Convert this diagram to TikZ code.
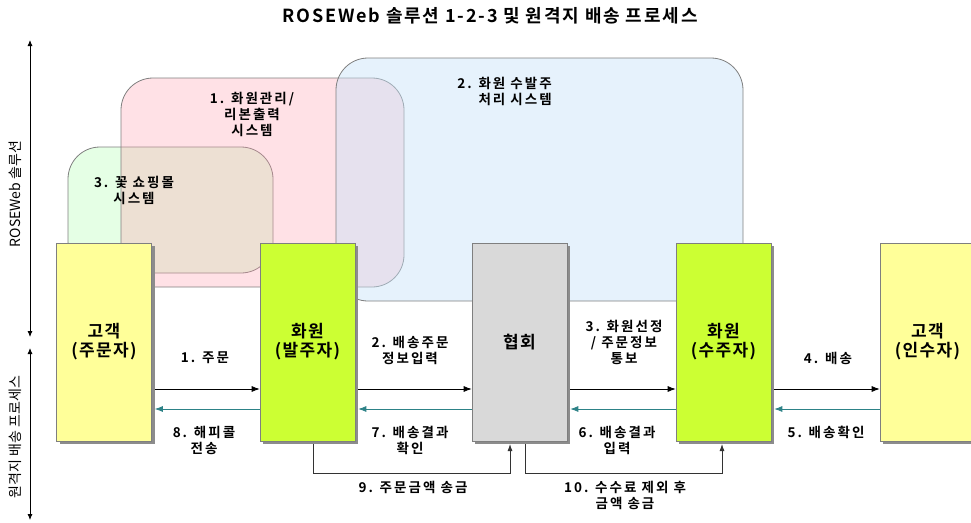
\documentclass[tikz,border=0pt]{standalone}
\usepackage{fontspec}
\setmainfont{Noto Sans CJK KR}[BoldFont={Noto Sans CJK KR Bold}]
\newfontfamily\krT{Noto Sans CJK KR Bold}[LetterSpace=10]
\newfontfamily\krB{Noto Sans CJK KR Bold}[LetterSpace=8]
\newfontfamily\krS{Noto Sans CJK KR Bold}[LetterSpace=15]
\newfontfamily\krA{Noto Sans CJK KR}
\usetikzlibrary{arrows.meta,shadows,calc}
\definecolor{cyel}{HTML}{FFFF99}
\definecolor{cgrn}{HTML}{CCFF33}
\definecolor{cgry}{HTML}{D9D9D9}
\definecolor{rgGreen}{HTML}{E5FFE5}
\definecolor{rgPink}{rgb}{1,0.62,0.68}
\definecolor{rgBlue}{rgb}{0.78,0.887,0.973}
\definecolor{edge}{HTML}{7F7F7F}
\definecolor{teal2}{RGB}{45,130,135}
\tikzset{
  actor/.style={draw=edge, line width=0.6pt, minimum width=95pt, minimum height=198pt,
    inner sep=0pt, align=center, font=\krB\fontsize{17}{19}\selectfont,
    drop shadow={shadow xshift=3pt, shadow yshift=-3pt, fill=black!45, opacity=1}},
  region/.style={draw=edge, line width=0.8pt, rounded corners=32pt},
  lbl/.style={align=center, inner sep=0pt, font=\krS\fontsize{13.5}{16}\selectfont},
  fwd/.style={draw=black, line width=0.8pt, -{Latex[length=8pt,width=6pt]}},
  back/.style={draw=teal2, line width=0.8pt, -{Latex[length=8pt,width=6pt]}},
  pay/.style={draw=black!80, line width=0.8pt, -{Latex[length=7pt,width=5pt]}},
  axis/.style={draw=black, line width=0.8pt, {Latex[length=6pt,width=5pt]}-{Latex[length=6pt,width=5pt]}}
}
\begin{document}
\begin{tikzpicture}[x=1pt,y=-1pt]
\useasboundingbox (0,0) rectangle (971,522);
% title
\node[font=\krT\fontsize{18}{20}\selectfont] (title) at (490,16) {ROSEWeb 솔루션 1-2-3 및 원격지 배송 프로세스};
% axis
\coordinate (ax1) at (30,40);
\coordinate (ax2) at (30,337);
\coordinate (ax3) at (30,348);
\coordinate (ax4) at (30,520);
\draw[axis] (ax1) -- (ax2);
\draw[axis] (ax3) -- (ax4);
\node[rotate=90, font=\krA\fontsize{14}{16}\selectfont] (axl1) at (15,194) {ROSEWeb 솔루션};
\node[rotate=90, font=\krA\fontsize{14}{16}\selectfont] (axl2) at (15,437) {원격지 배송 프로세스};
% regions
\draw[region, fill=rgGreen] (68,147) rectangle (273,273);
\fill[rgPink, fill opacity=0.31, rounded corners=32pt] (121,78) rectangle (404,287);
\draw[region] (121,78) rectangle (404,287);
\fill[rgBlue, fill opacity=0.45, rounded corners=32pt] (336,58) rectangle (743,301);
\draw[region] (336,58) rectangle (743,301);
\node[lbl] (r1) at (252,114) {1. 화원관리/\\리본출력\\시스템};
\node[lbl, align=right, anchor=east] (r2) at (552,91) {2. 화원 수발주\\처리 시스템};
\node[lbl] (r3) at (134,190) {3. 꽃 쇼핑몰\\시스템};
% rows
\coordinate (rowF) at (0,389);
\coordinate (rowB) at (0,409);
\coordinate (m9a) at (313,473);
\coordinate (m9b) at (510,473);
\coordinate (m10a) at (525,473);
\coordinate (m10b) at (722,473);
% payment lines (under boxes)
\draw[pay] (m9a |- 0,441) -- (m9a) -- (m9b) -- ($(m9b |- 0,441)+(0,3)$);
\draw[pay] (m10a |- 0,441) -- (m10a) -- (m10b) -- ($(m10b |- 0,441)+(0,3)$);
% actors
\node[actor, fill=cyel] (c1) at (104,342) {고객\\(주문자)};
\node[actor, fill=cgrn] (h1) at (307.5,342) {화원\\(발주자)};
\node[actor, fill=cgry] (as) at (519.5,342) {협회};
\node[actor, fill=cgrn] (h2) at (723.5,342) {화원\\(수주자)};
\node[actor, fill=cyel] (c2) at (927.5,342) {고객\\(인수자)};
% forward arrows
\draw[fwd] ($(c1.east |- rowF)+(3,0)$) -- (h1.west |- rowF);
\draw[fwd] ($(h1.east |- rowF)+(3,0)$) -- (as.west |- rowF);
\draw[fwd] ($(as.east |- rowF)+(3,0)$) -- (h2.west |- rowF);
\draw[fwd] ($(h2.east |- rowF)+(3,0)$) -- (c2.west |- rowF);
% back arrows
\draw[back] (h1.west |- rowB) -- ($(c1.east |- rowB)+(3,0)$);
\draw[back] (as.west |- rowB) -- ($(h1.east |- rowB)+(3,0)$);
\draw[back] (h2.west |- rowB) -- ($(as.east |- rowB)+(3,0)$);
\draw[back] (c2.west |- rowB) -- ($(h2.east |- rowB)+(3,0)$);
% labels
\node[lbl] (l1) at (205,358) {1. 주문};
\node[lbl] (l2) at (410,350) {2. 배송주문\\정보입력};
\node[lbl] (l3) at (624,342) {3. 화원선정\\/ 주문정보\\통보};
\node[lbl] (l4) at (828,358) {4. 배송};
\node[lbl] (l8) at (204,440) {8. 해피콜\\전송};
\node[lbl] (l7) at (410,440) {7. 배송결과\\확인};
\node[lbl] (l6) at (617,440) {6. 배송결과\\입력};
\node[lbl] (l5) at (826,432) {5. 배송확인};
\node[lbl] (l9) at (413,487) {9. 주문금액 송금};
\node[lbl] (l10) at (625,495) {10. 수수료 제외 후\\금액 송금};
\end{tikzpicture}
\end{document}
